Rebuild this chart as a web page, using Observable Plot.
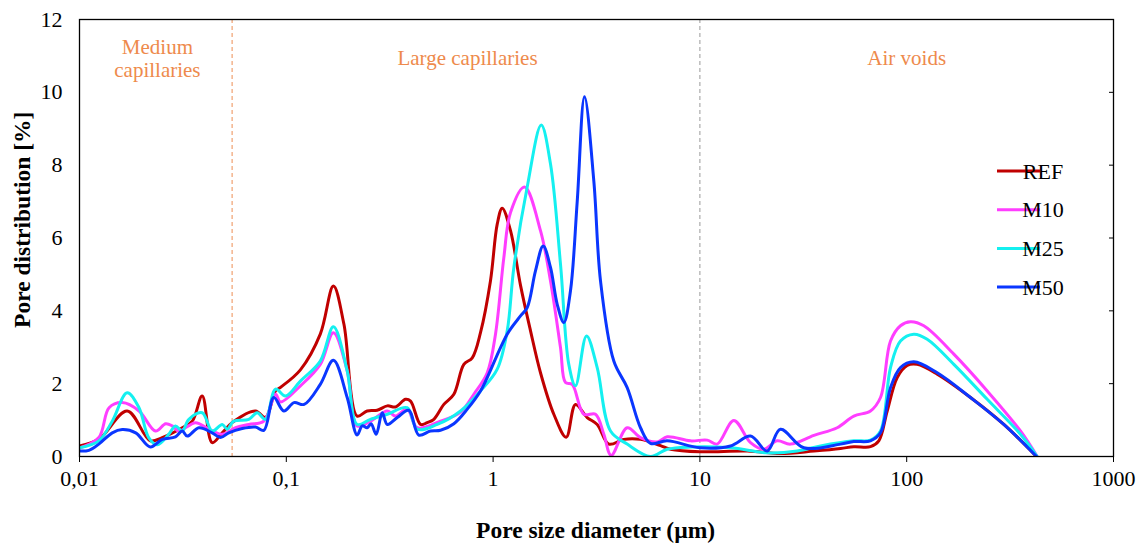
<!DOCTYPE html>
<html><head><meta charset="utf-8">
<script src="https://cdn.jsdelivr.net/npm/d3@7"></script>
<script src="https://cdn.jsdelivr.net/npm/@observablehq/plot@0.6"></script>
<style>body{margin:0;background:#fff} svg{display:block}</style>
</head><body><div id="chart"></div>
<script>
const seriesNames = ["REF", "M10", "M25", "M50"];
const seriesColors = ["#C00000", "#FF3DFF", "#14F0F0", "#0A36FF"];

// [pore diameter (µm), pore distribution (%)]
const REF = [[0.01,0.29],[0.0124,0.47],[0.017,1.25],[0.022,0.43],[0.0251,0.52],[0.0314,0.79],[0.0351,0.97],[0.0392,1.66],[0.0438,0.38],[0.049,0.65],[0.0547,0.93],[0.071,1.25],[0.0793,1.07],[0.0887,1.8],[0.0938,1.9],[0.117,2.38],[0.146,3.36],[0.169,4.68],[0.19,3.63],[0.22,1.11],[0.246,1.25],[0.275,1.27],[0.308,1.39],[0.337,1.36],[0.377,1.57],[0.399,1.52],[0.446,0.88],[0.48,0.93],[0.517,1.02],[0.578,1.43],[0.646,1.71],[0.722,2.53],[0.793,2.71],[0.869,3.4],[0.971,4.82],[1.047,6.38],[1.107,6.82],[1.214,6.2],[1.357,4.7],[1.517,3.45],[1.695,2.3],[1.966,1.16],[2.257,0.53],[2.503,1.43],[2.851,1.07],[3.187,0.88],[3.627,0.34],[4.285,0.47],[5.162,0.47],[6.45,0.3],[7.21,0.2],[10,0.13],[16.93,0.15],[24.5,0.08],[35.6,0.15],[47.9,0.22],[55.5,0.27],[66.8,0.27],[73.3,0.43],[80.5,1.25],[90,2.17],[100.6,2.5],[112.4,2.53],[140.5,2.26],[203.5,1.62],[294.8,0.88],[424.4,0]];
const M10 = [[0.01,0.23],[0.0124,0.52],[0.0139,1.34],[0.0161,1.48],[0.0194,1.25],[0.0233,0.7],[0.0261,0.9],[0.0281,0.84],[0.0302,0.7],[0.0364,0.93],[0.0422,0.75],[0.049,0.61],[0.0568,0.79],[0.0659,0.88],[0.0779,0.97],[0.0887,1.71],[0.0938,1.5],[0.117,1.94],[0.146,2.53],[0.169,3.4],[0.197,2.35],[0.22,0.84],[0.255,0.97],[0.308,1.25],[0.337,1.11],[0.384,1.3],[0.43,0.79],[0.557,0.97],[0.696,1.22],[0.807,1.71],[0.937,2.3],[1.027,3.36],[1.127,5.46],[1.214,6.7],[1.419,7.4],[1.695,6.2],[1.895,4.82],[2.118,2.99],[2.239,2.03],[2.413,1.98],[2.746,1.16],[3.128,1.16],[3.431,0.61],[3.724,0.03],[4.45,0.79],[5.162,0.52],[6.216,0.4],[6.95,0.54],[9.0,0.43],[10.85,0.45],[12.12,0.34],[14.59,0.99],[17.57,0.38],[20.37,0.2],[23.64,0.43],[27.42,0.34],[35.6,0.58],[46.1,0.79],[55.5,1.11],[66.8,1.25],[74.7,1.62],[83.5,3.17],[93.3,3.59],[104.3,3.7],[121,3.59],[169,2.81],[245.1,1.8],[355,0.7],[427.6,0]];
const M25 = [[0.01,0.24],[0.0124,0.43],[0.0144,0.97],[0.017,1.75],[0.0194,1.34],[0.0216,0.52],[0.0238,0.32],[0.027,0.61],[0.0291,0.84],[0.0314,0.7],[0.0338,1.02],[0.0392,1.2],[0.0438,0.7],[0.049,0.88],[0.0518,0.75],[0.0557,0.97],[0.0659,1.02],[0.0723,1.2],[0.0793,1.02],[0.0887,1.85],[0.0991,1.66],[0.117,2.07],[0.146,2.62],[0.169,3.56],[0.197,2.35],[0.22,0.88],[0.255,1.02],[0.308,1.16],[0.384,1.34],[0.43,0.75],[0.537,0.88],[0.696,1.25],[0.869,1.8],[1.047,2.4],[1.17,3.45],[1.26,5.19],[1.462,7.4],[1.709,9.1],[1.895,8.03],[2.118,5.28],[2.323,2.53],[2.503,1.94],[2.829,3.31],[3.187,2.44],[3.696,0.7],[4.45,0.34],[5.768,0.0],[6.95,0.2],[9.0,0.26],[14.06,0.24],[21.16,0.1],[29.54,0.15],[38.3,0.29],[55.5,0.43],[66.8,0.45],[74.7,0.7],[83.5,2.44],[93.3,3.17],[108.2,3.36],[125.6,3.22],[169,2.53],[245.1,1.57],[355,0.61],[427.6,0]];
const M50 = [[0.01,0.15],[0.0111,0.17],[0.0124,0.34],[0.0144,0.65],[0.0161,0.74],[0.0187,0.65],[0.022,0.26],[0.0251,0.47],[0.0291,0.54],[0.0314,0.7],[0.0332,0.56],[0.0378,0.79],[0.0438,0.65],[0.0481,0.52],[0.0527,0.65],[0.0612,0.77],[0.071,0.81],[0.0779,0.72],[0.087,1.62],[0.0973,1.25],[0.109,1.48],[0.122,1.43],[0.146,1.98],[0.169,2.64],[0.197,1.62],[0.22,0.59],[0.233,0.84],[0.246,0.79],[0.257,0.9],[0.272,0.61],[0.291,1.2],[0.308,0.88],[0.344,1.07],[0.391,1.27],[0.437,0.59],[0.498,0.7],[0.557,0.72],[0.646,0.9],[0.75,1.3],[0.869,1.8],[0.937,2.17],[1.17,3.36],[1.357,3.86],[1.462,4.09],[1.603,5.1],[1.747,5.78],[1.895,5.19],[2.042,4.18],[2.198,3.68],[2.367,4.55],[2.551,7.0],[2.767,9.88],[3.069,7.57],[3.307,4.82],[3.834,2.62],[4.45,1.89],[5.162,0.79],[5.768,0.36],[6.95,0.43],[10,0.24],[14.06,0.29],[17.57,0.56],[21.16,0.15],[24.5,0.75],[31.8,0.24],[47.9,0.34],[55.5,0.41],[66.8,0.43],[74.7,0.65],[83.5,1.89],[93.3,2.44],[108.2,2.6],[140.5,2.3],[203.5,1.62],[294.8,0.88],[424.4,0]];

const xTicks = [0.01, 0.1, 1, 10, 100, 1000];
const xTickLabels = ["0,01", "0,1", "1", "10", "100", "1000"];
const yTicks = [0, 2, 4, 6, 8, 10, 12];
const regionBounds = [0.0547, 10];
const regionLabels = ["Medium\ncapillaries", "Large capillaries", "Air voids"];
const regionCenters = [0.0238, 0.752, 100];

const rows = [];
[REF, M10, M25, M50].forEach((arr, i) => arr.forEach(([d, v]) => rows.push({series: seriesNames[i], d, v})));
const regions = regionLabels.map((label, i) => ({label, x: regionCenters[i]}));
const xLabelMap = new Map(xTicks.map((t, i) => [t, xTickLabels[i]]));

const FONT = "'Liberation Serif', 'Times New Roman', serif";
const plot = Plot.plot({
  width: 1148, height: 549,
  marginLeft: 79, marginRight: 35, marginTop: 19, marginBottom: 93,
  style: {fontFamily: FONT, fontSize: "22px", color: "#000", background: "#fff"},
  x: {type: "log", domain: [0.01, 1000]},
  y: {domain: [0, 12]},
  color: {domain: seriesNames, range: seriesColors},
  marks: [
    Plot.ruleX([regionBounds[0]], {stroke: "#F0A070", strokeDasharray: "4,3", strokeWidth: 1.2}),
    Plot.ruleX([regionBounds[1]], {stroke: "#9a9a9a", strokeDasharray: "4,3", strokeWidth: 1}),
    Plot.text(regions, {x: "x", y: 10.95, text: "label", fill: "#EE8A4C", fontSize: 21, lineHeight: 1.1}),
    Plot.line(rows, {x: "d", y: "v", z: "series", stroke: "series", strokeWidth: 3, curve: "catmull-rom", clip: true}),
    Plot.frame({stroke: "#000", strokeWidth: 1.3}),
    Plot.axisX(xTicks, {tickFormat: d => xLabelMap.get(d), tickSize: 6, tickPadding: 8, label: null}),
    Plot.axisY(yTicks, {anchor: "left", tickSize: 0, tickPadding: 17, label: null}),
    Plot.axisY(yTicks, {anchor: "right", tickSize: -5, tickFormat: () => "", label: null}),
    Plot.text(["Pore size diameter (µm)"], {frameAnchor: "bottom", x: 3.13, dy: 74, lineAnchor: "middle", textAnchor: "middle", fontWeight: "bold", fontSize: 23.5}),
    Plot.text(["Pore distribution [%]"], {frameAnchor: "left", y: 6.5, dx: -57, rotate: -90, lineAnchor: "middle", textAnchor: "middle", fontWeight: "bold", fontSize: 23.5})
  ]
});
document.getElementById("chart").appendChild(plot);

// legend
const lg = d3.select(plot).append("g").attr("font-family", FONT).attr("font-size", 22);
seriesNames.forEach((name, i) => {
  const y = 171 + i * 38.7;
  lg.append("line").attr("x1", 997).attr("x2", 1040).attr("y1", y).attr("y2", y)
    .attr("stroke", seriesColors[i]).attr("stroke-width", 3);
  lg.append("text").attr("x", 1043).attr("y", y).attr("dy", "0.35em").attr("fill", "#000").text(name);
});
</script>
</body></html>
